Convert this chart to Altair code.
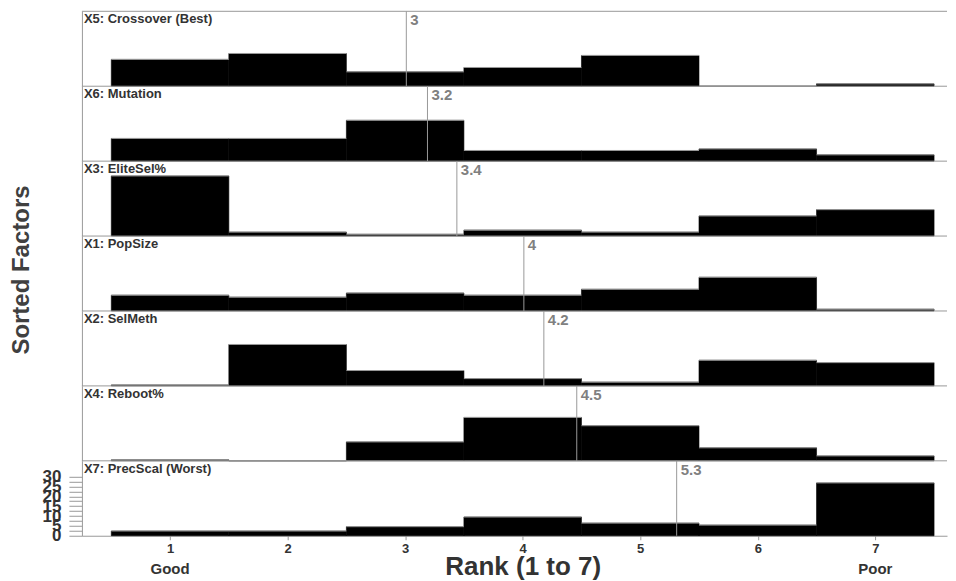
import altair as alt
import pandas as pd

factors = ["X5: Crossover (Best)", "X6: Mutation", "X3: EliteSel%", "X1: PopSize",
           "X2: SelMeth", "X4: Reboot%", "X7: PrecScal (Worst)"]
ranks = [1, 2, 3, 4, 5, 6, 7]
counts = [
    [13.6, 16.6, 7.3, 9.5, 15.6, 0.0, 1.2],
    [11.5, 11.5, 20.7, 5.4, 5.4, 6.2, 3.2],
    [30.5, 2.0, 0.9, 3.0, 2.0, 10.2, 13.4],
    [8.0, 7.0, 9.1, 8.0, 11.0, 17.1, 0.9],
    [0.5, 21.0, 7.8, 3.7, 1.9, 13.0, 11.8],
    [0.5, 0.0, 9.6, 22.0, 17.8, 6.6, 2.5],
    [2.4, 2.4, 4.6, 9.5, 6.4, 5.4, 26.8],
]
means = [3.01, 3.19, 3.44, 4.01, 4.18, 4.46, 5.31]
mean_labels = ["3", "3.2", "3.4", "4", "4.2", "4.5", "5.3"]
x_ticks = [1, 2, 3, 4, 5, 6, 7]
end_labels = ["Good", "Poor"]
end_ranks = [1, 7]
y_ticks = [0, 2.5, 5, 7.5, 10, 12.5, 15, 17.5, 20, 22.5, 25, 27.5, 30]

FONT = "Liberation Sans"
W = 866
H = 75
XMIN, XMAX = 0.25, 7.61
GRAY = "#999999"
DARK = "#333333"

xscale = alt.Scale(domain=[XMIN, XMAX], nice=False, zero=False)
yscale = alt.Scale(domain=[0, 38], nice=False)


def panel(i):
    last = i == len(factors) - 1
    middle = i == 3
    df = pd.DataFrame({
        "lo": [r - 0.5 for r in ranks],
        "hi": [r + 0.5 for r in ranks],
        "count": counts[i],
    })
    if last:
        xaxis = alt.Axis(values=x_ticks, title="Rank (1 to 7)", format="d",
                         labelFontSize=13, labelFontWeight="bold", labelColor=DARK,
                         labelFont=FONT, tickSize=4, tickColor=GRAY, domainColor=GRAY,
                         titleFontSize=26, titleFontWeight="bold", titleColor=DARK,
                         titleFont=FONT, labelPadding=3, grid=False,
                         titleBaseline="alphabetic", titleY=39,
                         titleX=(4 - XMIN) / (XMAX - XMIN) * W)
    else:
        xaxis = None
    if last:
        yaxis = alt.Axis(values=y_ticks, title=None, grid=False, labelOverlap=False,
                         labelExpr="datum.value % 5 === 0 ? datum.label : ''",
                         labelFontSize=17, labelFontWeight="bold", labelColor=DARK,
                         labelFont=FONT, tickSize=13, tickColor=GRAY, domainColor=GRAY,
                         labelPadding=8)
    elif middle:
        yaxis = alt.Axis(labels=False, ticks=False, grid=False, domainColor=GRAY,
                         title="Sorted Factors", titleFontSize=24, titleFontWeight="bold",
                         titleColor="#404040", titleFont=FONT, titleAngle=270,
                         titleX=-60, titleY=H / 2 - 4, titleAlign="center",
                         titleBaseline="middle")
    else:
        yaxis = alt.Axis(labels=False, ticks=False, grid=False, domainColor=GRAY,
                         title=None)

    base = alt.Chart(df)
    bars = base.mark_rect(color="black", stroke="black", strokeWidth=0.6).encode(
        x=alt.X("lo:Q", scale=xscale, axis=xaxis),
        x2="hi:Q",
        y=alt.Y("count:Q", scale=yscale, axis=yaxis),
        y2=alt.datum(0),
    )
    tops = base.mark_rule(color=GRAY, strokeWidth=1).encode(
        x=alt.X("lo:Q", scale=xscale, axis=xaxis),
        x2="hi:Q",
        y=alt.Y("count:Q", scale=yscale, axis=yaxis),
    )
    mdf = pd.DataFrame({"mean": [means[i]], "label": [mean_labels[i]],
                        "name": [factors[i]]})
    mbase = alt.Chart(mdf)
    mline = mbase.mark_rule(color=GRAY, strokeWidth=1).encode(
        x=alt.X("mean:Q", scale=xscale, axis=xaxis),
        y=alt.value(0), y2=alt.value(H),
    )
    mtext = mbase.mark_text(align="left", baseline="top", dx=4, dy=2,
                            fontSize=15, fontWeight="bold", color="#808080",
                            font=FONT).encode(
        x=alt.X("mean:Q", scale=xscale, axis=xaxis),
        y=alt.value(0),
        text="label:N",
    )
    ttext = mbase.mark_text(align="left", baseline="top", dx=2, dy=2,
                            fontSize=13, fontWeight="bold", color=DARK,
                            font=FONT).encode(
        x=alt.value(0), y=alt.value(0), text="name:N",
    )
    border = mbase.mark_rule(color=GRAY, strokeWidth=1).encode(
        x=alt.value(0), x2=alt.value(W), y=alt.value(0),
    )
    layers = [bars, tops, mline, mtext, ttext, border]
    if last:
        edf = pd.DataFrame({"rank": end_ranks, "label": end_labels})
        etext = alt.Chart(edf).mark_text(baseline="middle", fontSize=15,
                                         fontWeight="bold", color=DARK,
                                         font=FONT).encode(
            x=alt.X("rank:Q", scale=xscale, axis=xaxis),
            y=alt.value(H + 33),
            text="label:N",
        )
        layers.append(etext)
    return alt.layer(*layers).properties(width=W, height=H)


chart = alt.vconcat(*[panel(i) for i in range(len(factors))], spacing=0,
                    bounds="flush").properties(
    padding={"left": 1, "top": 2, "right": 0, "bottom": 0},
    background="white",
).configure_view(stroke=None).configure_concat(spacing=0)

chart.save("out.html", embed_options={"renderer": "svg", "actions": False})
